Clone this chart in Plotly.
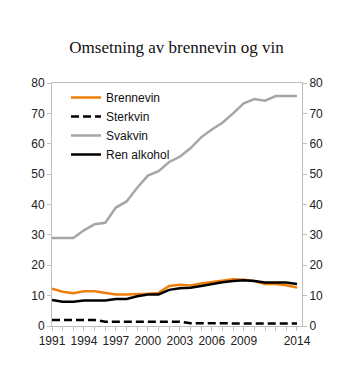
import plotly.graph_objects as go

years = list(range(1991, 2015))
brennevin = [12.3, 11.3, 10.8, 11.4, 11.4, 10.9, 10.4, 10.4, 10.4, 10.6, 10.9, 13.2,
             13.6, 13.3, 14.0, 14.5, 15.0, 15.4, 15.2, 14.8, 13.8, 13.8, 13.4, 12.7]
sterkvin = [2.0, 2.0, 2.0, 2.0, 2.0, 1.4, 1.4, 1.4, 1.4, 1.4, 1.4, 1.4,
            1.4, 0.9, 0.9, 0.9, 0.9, 0.9, 0.9, 0.9, 0.9, 0.9, 0.9, 0.8]
svakvin = [29.0, 29.0, 29.0, 31.5, 33.5, 34.0, 39.0, 41.0, 45.5, 49.5, 51.0, 54.0,
           55.7, 58.5, 62.1, 64.7, 66.9, 70.0, 73.3, 74.7, 74.2, 75.7, 75.7, 75.7]
ren_alkohol = [8.6, 8.0, 8.0, 8.4, 8.4, 8.4, 8.9, 8.9, 9.8, 10.4, 10.4, 11.9,
               12.4, 12.6, 13.2, 13.9, 14.4, 14.8, 15.1, 14.8, 14.3, 14.3, 14.3, 13.8]
x_tick_labels = [1991, 1994, 1997, 2000, 2003, 2006, 2009, 2014]
y_ticks = [0, 10, 20, 30, 40, 50, 60, 70, 80]

fig = go.Figure()
fig.add_trace(go.Scatter(x=years, y=brennevin, name="Brennevin", mode="lines",
                         line=dict(color="#F07F09", width=2.5)))
fig.add_trace(go.Scatter(x=years, y=sterkvin, name="Sterkvin", mode="lines",
                         line=dict(color="#000000", width=2.5, dash="8px,4px")))
fig.add_trace(go.Scatter(x=years, y=svakvin, name="Svakvin", mode="lines",
                         line=dict(color="#A6A6A6", width=2.5)))
fig.add_trace(go.Scatter(x=years, y=ren_alkohol, name="Ren alkohol", mode="lines",
                         line=dict(color="#000000", width=2.5)))
# invisible trace to activate the right axis
fig.add_trace(go.Scatter(x=[years[0]], y=[0], yaxis="y2", mode="lines",
                         showlegend=False, hoverinfo="skip",
                         line=dict(color="rgba(0,0,0,0)")))

axis_color = "#BFBFBF"
tickfont = dict(family="Liberation Sans, Arial, sans-serif", size=12, color="#222222")

fig.update_layout(
    width=353, height=383,
    margin=dict(l=52, r=51, t=83, b=57),
    paper_bgcolor="white", plot_bgcolor="white",
    title=dict(text="Omsetning av brennevin og vin", x=0.5, xanchor="center",
               y=1 - 47 / 383, yanchor="middle",
               font=dict(family="Liberation Serif, Times New Roman, serif", size=17,
                         color="#111111")),
    showlegend=True,
    legend=dict(x=0.056, y=1.0, xanchor="left", yanchor="top",
                bgcolor="rgba(0,0,0,0)", tracegroupgap=0,
                font=dict(family="Liberation Sans, Arial, sans-serif", size=12,
                          color="#111111")),
    xaxis=dict(range=[1991, 2014.47], tickmode="array", tickvals=x_tick_labels,
               ticks="outside", ticklen=4, tickcolor=axis_color,
               showline=True, linecolor=axis_color, linewidth=1,
               showgrid=False, zeroline=False, tickfont=tickfont,
               minor=dict(tickmode="linear", tick0=1991, dtick=1, ticks="outside",
                          ticklen=4, tickcolor=axis_color, showgrid=False),
               mirror=True),
    yaxis=dict(range=[0, 80], tickmode="array", tickvals=y_ticks,
               ticks="outside", ticklen=4, tickcolor=axis_color,
               showline=True, linecolor=axis_color, linewidth=1,
               showgrid=False, zeroline=False, tickfont=tickfont),
    yaxis2=dict(range=[0, 80], tickmode="array", tickvals=y_ticks,
                overlaying="y", side="right",
                ticks="outside", ticklen=4, tickcolor=axis_color,
                showline=True, linecolor=axis_color, linewidth=1,
                showgrid=False, zeroline=False, tickfont=tickfont),
)

fig.write_html("out.html")
